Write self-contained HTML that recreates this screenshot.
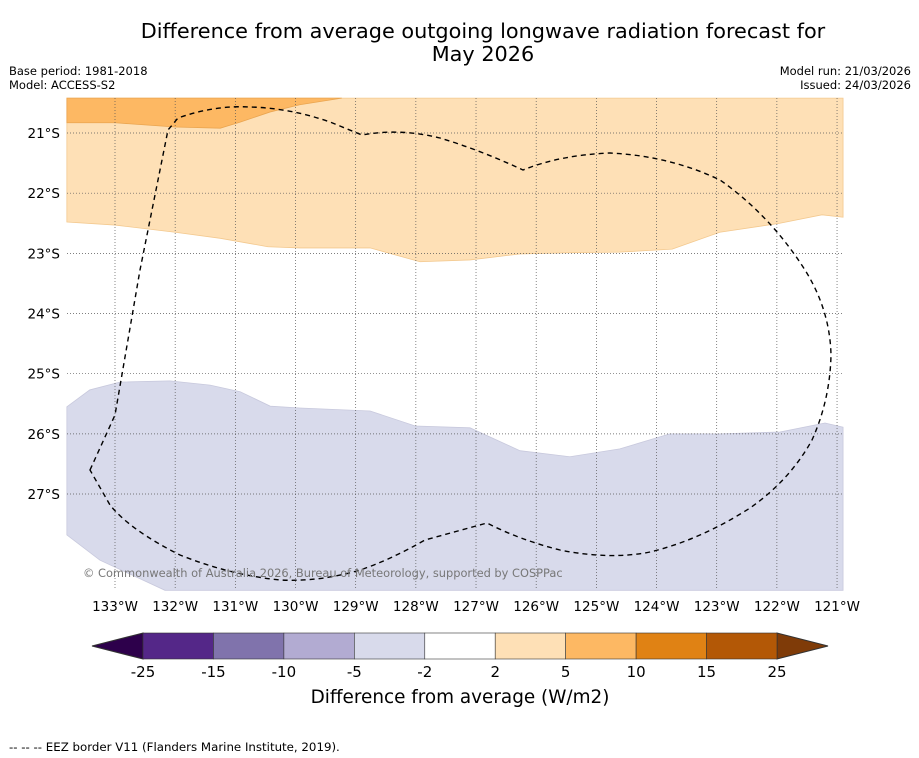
<!DOCTYPE html>
<html><head><meta charset="utf-8"><style>
body{margin:0;background:#fff;font-family:"DejaVu Sans","Liberation Sans",sans-serif;}
svg{display:block}
</style></head><body>
<svg id="c" width="919" height="758" viewBox="0 0 919 758">
<text x="483" y="38" text-anchor="middle" font-size="20.8">Difference from average outgoing longwave radiation forecast for</text>
<text x="483" y="61" text-anchor="middle" font-size="20.8">May 2026</text>
<text x="9" y="75" font-size="11.5">Base period: 1981-2018</text>
<text x="9" y="89" font-size="11.5">Model: ACCESS-S2</text>
<text x="911" y="75" font-size="11.5" text-anchor="end">Model run: 21/03/2026</text>
<text x="911" y="89" font-size="11.5" text-anchor="end">Issued: 24/03/2026</text>
<g id="map"></g>
<g id="cb"></g>
<text x="460" y="703" text-anchor="middle" font-size="18.4">Difference from average (W/m2)</text>
<text x="9" y="751" font-size="11.8">--  --  -- EEZ border V11 (Flanders Marine Institute, 2019).</text>
</svg>
<script>
const lonTicks=[133,132,131,130,129,128,127,126,125,124,123,122,121];
const latTicks=[21,22,23,24,25,26,27];
const cbLevels=["-25","-15","-10","-5","-2","2","5","10","15","25"];
const cbColors=["#542788","#8073ac","#b2abd2","#d8daeb","#ffffff","#fee0b6","#fdb863","#e08214","#b35806"];
const darkOrangeLon=[133.8,133.8,133,132,131.25,130.92,130.42,129.93,129.23];
const darkOrangeLat=[20.42,20.83,20.83,20.9,20.92,20.82,20.65,20.53,20.42];
const lightOrangeLon=[133.8,133.8,133,132,131.25,130.46,129.93,128.76,127.93,127.1,126.27,125.44,124.61,123.74,122.95,121.95,121.25,120.9,120.9];
const lightOrangeLat=[20.42,22.48,22.53,22.65,22.75,22.89,22.91,22.91,23.14,23.11,23.01,22.99,22.98,22.93,22.65,22.5,22.36,22.4,20.42];
const lavenderLon=[133.8,133.42,132.92,132.09,131.42,130.92,130.42,129.93,128.76,128.01,127.1,126.27,125.44,124.61,123.78,122.95,121.95,121.2,120.9,120.9,132.17,133.25,133.8];
const lavenderLat=[25.55,25.27,25.14,25.12,25.19,25.3,25.54,25.57,25.62,25.87,25.9,26.28,26.38,26.25,26.0,26.0,25.97,25.82,25.89,28.6,28.6,28.1,27.68];
const NS='http://www.w3.org/2000/svg';
const X=lon=>115+(133-lon)*60.17, Y=lat=>133+(lat-21)*60.17;
function el(t,a,p){const e=document.createElementNS(NS,t);for(const k in a)e.setAttribute(k,a[k]);p.appendChild(e);return e;}
const map=document.getElementById('map');
function poly(lons,lats,fill,stroke,name){
  const e=el('polygon',{points:lons.map((l,i)=>X(l)+','+Y(lats[i])).join(' '),fill:fill,stroke:stroke,'stroke-width':0.8},map);
  
  
}
poly(lightOrangeLon,lightOrangeLat,'#fee0b6','#f3c98f','contour-2-to-5');
poly(darkOrangeLon,darkOrangeLat,'#fdb863','#eaa550','contour-5-to-10');
poly(lavenderLon,lavenderLat,'#d8daeb','#c8c9dd','contour-minus5-to-minus2');
lonTicks.forEach(l=>{
  const g=el('line',{x1:X(l),x2:X(l),y1:98,y2:590,stroke:'#555','stroke-width':0.7,'stroke-dasharray':'1,2'},map);
  
  
  const t=el('text',{x:X(l),y:611,'text-anchor':'middle','font-size':13.5},map);t.textContent=l+'°W';
  
  
});
latTicks.forEach(l=>{
  const g=el('line',{x1:67,x2:843,y1:Y(l),y2:Y(l),stroke:'#555','stroke-width':0.7,'stroke-dasharray':'1,2'},map);
  
  
  const t=el('text',{x:60,y:Y(l)+5,'text-anchor':'end','font-size':13.5},map);t.textContent=l+'°S';
  
  
});
const eez=el('path',{d:'M90,470 L115,415 L140,270 L168,130 L178,118 Q215,105 250,107 Q290,108 330,122 L362,135 Q400,128 440,138 Q480,150 523,170 Q560,155 610,153 Q670,156 720,180 Q770,215 805,270 Q830,310 831,355 Q830,400 812,440 Q790,480 750,508 Q700,540 650,552 Q610,560 560,550 Q520,540 487,523 L425,540 Q390,560 360,570 Q320,582 280,580 Q230,575 180,555 Q130,530 110,505 Z',fill:'none',stroke:'#000','stroke-width':1.4,'stroke-dasharray':'5,4'},map);


const cp=el('text',{x:83,y:577,'font-size':11.4,fill:'#777'},map);cp.textContent='© Commonwealth of Australia 2026, Bureau of Meteorology, supported by COSPPac';


const cb=document.getElementById('cb');
const cx0=143,cw=(777-143)/cbColors.length;
const lt=el('polygon',{points:'92,646 143,633 143,659',fill:'#2d004b',stroke:'#333'},cb);


const rt=el('polygon',{points:'828,646 777,633 777,659',fill:'#7f3b08',stroke:'#333'},cb);


cbColors.forEach((c,i)=>{
  const r=el('rect',{x:cx0+i*cw,y:633,width:cw,height:26,fill:c,stroke:'#333','stroke-width':0.6},cb);
  
  
});
cbLevels.forEach((s,i)=>{
  const t=el('text',{x:cx0+i*cw,y:677,'text-anchor':'middle','font-size':15},cb);t.textContent=s;
  
  
});
</script>
</body></html>
